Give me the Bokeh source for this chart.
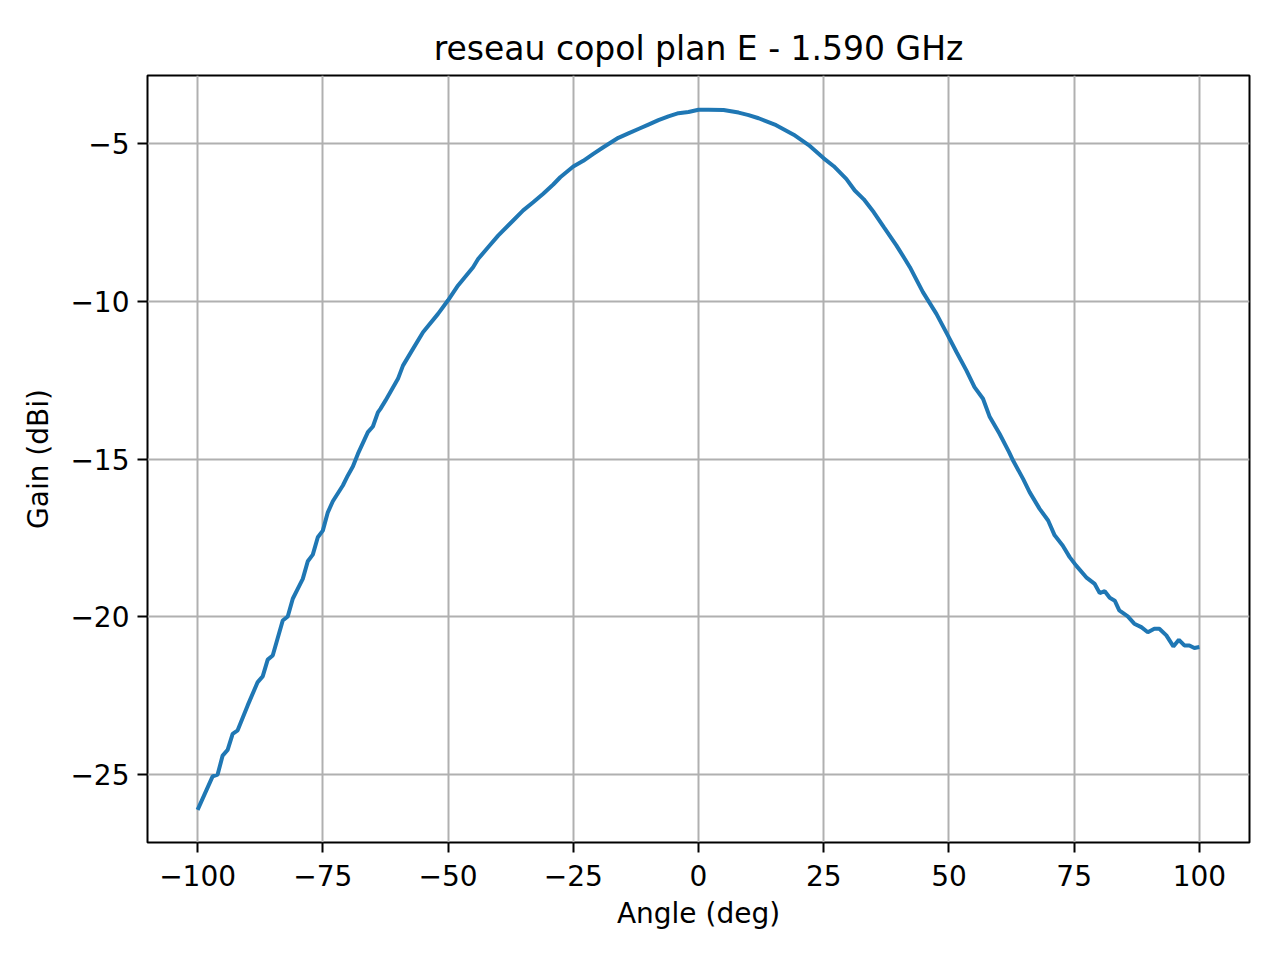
from bokeh.plotting import figure
from bokeh.models import FixedTicker, CustomJSTickFormatter, Range1d
from bokeh.embed import file_html
from bokeh.resources import INLINE

title_text = "reseau copol plan E - 1.590 GHz"
x_label = "Angle (deg)"
y_label = "Gain (dBi)"

angle = [-100, -97, -96, -95, -94, -93, -92, -90, -88, -87, -86, -85, -83, -82, -81,
         -79, -78, -77, -76, -75, -74, -73, -71, -70, -69, -68, -66, -65, -64, -63.5,
         -62.5, -60, -59, -57, -55, -52, -50, -48, -45, -44, -42, -40, -38, -37, -35,
         -33, -31, -29, -27.6, -25, -23, -21, -19, -16, -14, -12, -10, -8, -6, -4, -2, 0, 2,
         5, 8, 10, 12, 15.5, 19, 22, 25, 27, 29.5, 31.2, 33, 35, 37, 39.5, 41.2, 42.2, 44.8, 47.5,
         49.8, 51.5, 53.5, 55.1, 56.8, 58.1, 60.1, 62.0, 62.8, 64.8, 66.1, 68.1, 69.8,
         71.1, 72.7, 74.1, 75.4, 77.4, 79.1, 80.1, 81.1, 82.1, 83.1, 84.0, 85.7, 87.0,
         88.4, 89.7, 91.0, 92.0, 93.4, 94.8, 95.9, 97.0, 98.0, 99.0, 100]
gain = [-26.12, -25.06, -25.00, -24.40, -24.22, -23.71, -23.60, -22.81, -22.07, -21.89,
        -21.36, -21.23, -20.12, -19.99, -19.43, -18.80, -18.24, -18.03, -17.48, -17.27,
        -16.69, -16.34, -15.84, -15.52, -15.24, -14.84, -14.15, -13.97, -13.52, -13.41,
        -13.15, -12.46, -12.04, -11.51, -10.98, -10.40, -9.97, -9.50, -8.92, -8.66,
        -8.29, -7.92, -7.60, -7.44, -7.12, -6.86, -6.59, -6.30, -6.07, -5.73, -5.55,
        -5.33, -5.12, -4.82, -4.68, -4.54, -4.40, -4.26, -4.14, -4.04, -4.00, -3.93, -3.93,
        -3.94, -4.02, -4.10, -4.20, -4.42, -4.72, -5.05, -5.47, -5.72, -6.12, -6.49, -6.77,
        -7.18, -7.65, -8.23, -8.66, -8.92, -9.71, -10.40, -11.09, -11.61, -12.20, -12.72,
        -13.09, -13.65, -14.20, -14.78, -15.05, -15.63, -16.05, -16.58, -16.95, -17.42,
        -17.74, -18.11, -18.38, -18.75, -18.96, -19.25, -19.19, -19.40, -19.49, -19.80,
        -19.99, -20.22, -20.33, -20.49, -20.38, -20.38, -20.59, -20.94, -20.73, -20.91,
        -20.91, -20.99, -20.96]

x_ticks = [-100, -75, -50, -25, 0, 25, 50, 75, 100]
y_ticks = [-25, -20, -15, -10, -5]

p = figure(width=1272, height=952, output_backend="svg", toolbar_location=None,
           x_range=Range1d(-110, 110), y_range=Range1d(-27.155, -2.845),
           min_border_left=147, min_border_right=23, min_border_top=75, min_border_bottom=110,
           title=title_text)

p.background_fill_color = "white"
p.border_fill_color = "white"
p.outline_line_color = "black"
p.outline_line_width = 2

p.title.align = "center"
p.title.text_font = "DejaVu Sans"
p.title.text_font_size = "33px"
p.title.text_font_style = "normal"
p.title.text_color = "black"
p.title.standoff = 15

fmt = CustomJSTickFormatter(code="return String(tick).replace('-', '\\u2212');")

for ax, ticks, lab in ((p.xaxis[0], x_ticks, x_label), (p.yaxis[0], y_ticks, y_label)):
    ax.ticker = FixedTicker(ticks=ticks)
    ax.formatter = fmt
    ax.axis_label = lab
    ax.axis_label_text_font = "DejaVu Sans"
    ax.axis_label_text_font_size = "28px"
    ax.axis_label_text_font_style = "normal"
    ax.axis_label_text_color = "black"
    ax.axis_label_standoff = 12
    ax.major_label_text_font = "DejaVu Sans"
    ax.major_label_text_font_size = "28px"
    ax.major_label_text_color = "black"
    ax.major_label_standoff = 8
    ax.major_tick_out = 10
    ax.major_tick_in = 0
    ax.major_tick_line_width = 2
    ax.major_tick_line_color = "black"
    ax.minor_tick_out = 0
    ax.minor_tick_in = 0
    ax.axis_line_color = None

p.xaxis[0].major_label_standoff = 12
p.xaxis[0].axis_label_standoff = 8

p.xgrid.ticker = FixedTicker(ticks=x_ticks)
p.ygrid.ticker = FixedTicker(ticks=y_ticks)
p.grid.grid_line_color = "#b0b0b0"
p.grid.grid_line_width = 2

p.line(angle, gain, line_color="#1f77b4", line_width=4)

open("out.html", "w").write(file_html(p, INLINE))
